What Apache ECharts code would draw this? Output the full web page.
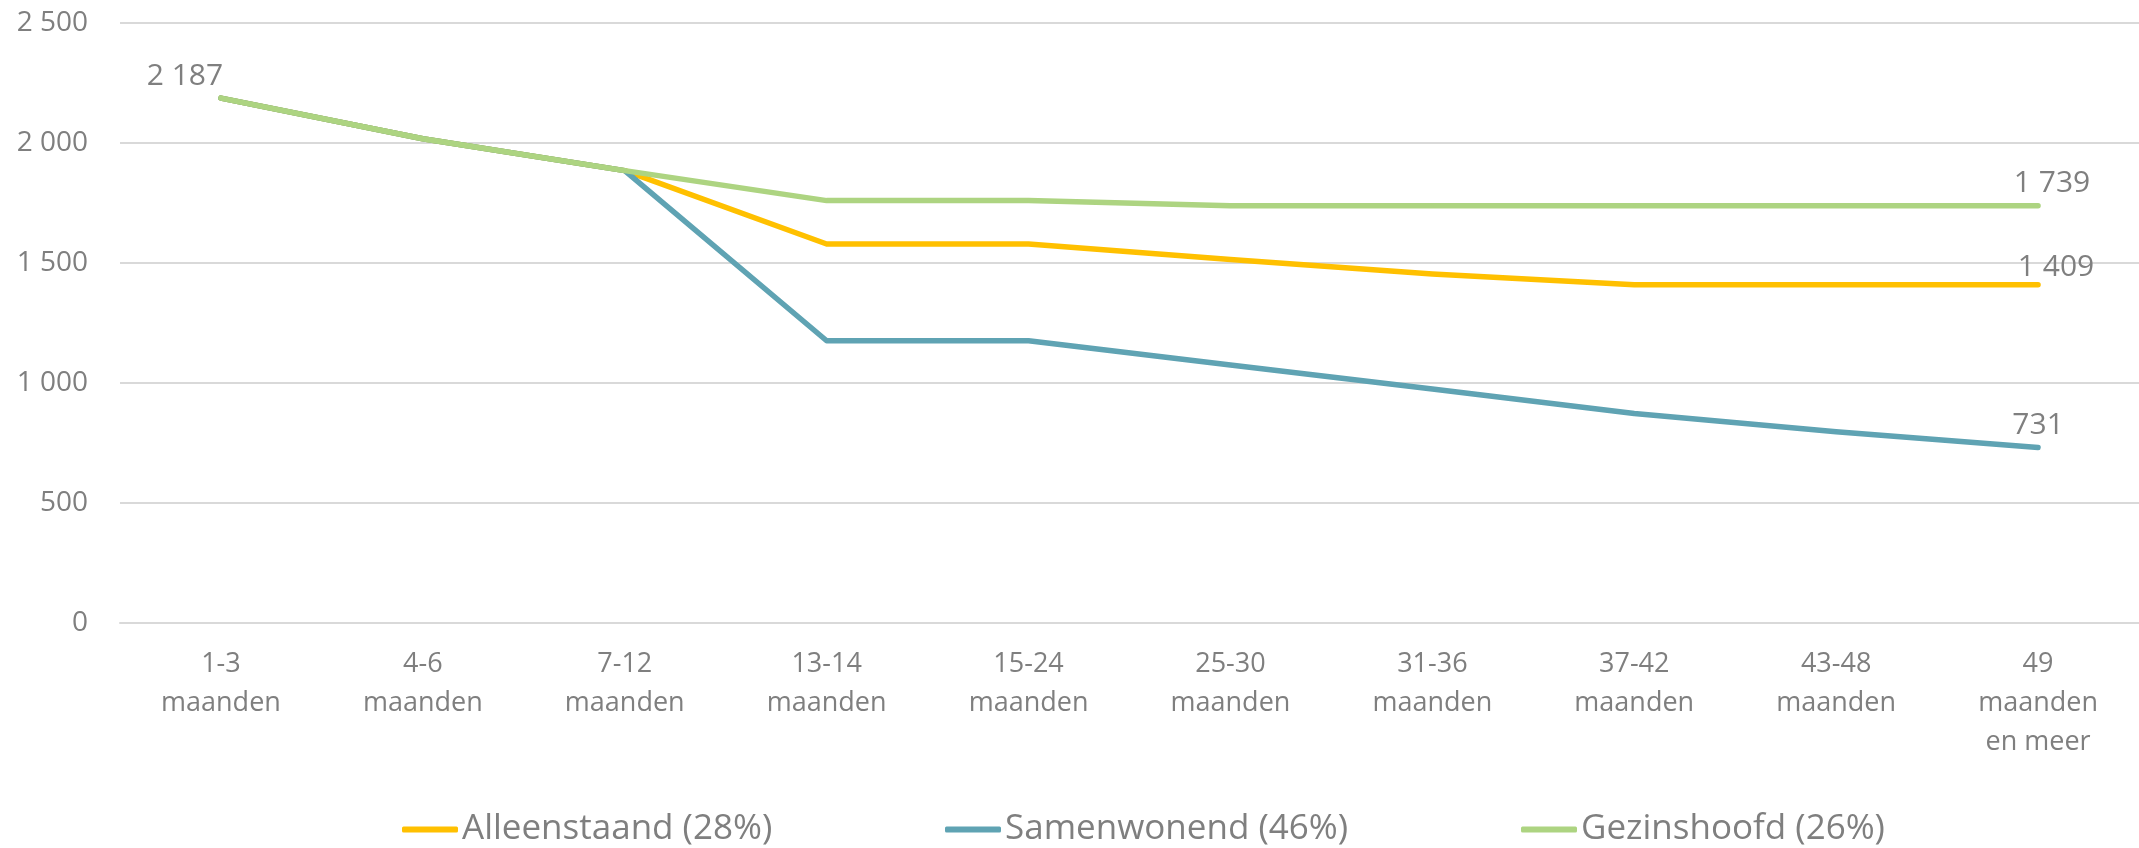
<!DOCTYPE html>
<html>
<head>
<meta charset="utf-8">
<script src="https://cdn.jsdelivr.net/npm/echarts@6/dist/echarts.min.js"></script>
<style>
html,body{margin:0;padding:0;background:#fff;}
#chart{width:2139px;height:848px;}
</style>
</head>
<body>
<div id="chart"></div>
<script>
const categories = ['1-3\nmaanden','4-6\nmaanden','7-12\nmaanden','13-14\nmaanden','15-24\nmaanden','25-30\nmaanden','31-36\nmaanden','37-42\nmaanden','43-48\nmaanden','49\nmaanden\nen meer'];
const seriesNames = ['Alleenstaand (28%)','Samenwonend (46%)','Gezinshoofd (26%)'];
const alleenstaand = [2187, 2018, 1885, 1579, 1579, 1515, 1454, 1409, 1409, 1409];
const samenwonend  = [2187, 2018, 1885, 1176, 1176, 1075, 975, 873, 797, 731];
const gezinshoofd  = [2187, 2018, 1885, 1760, 1760, 1739, 1739, 1739, 1739, 1739];
const yTicks = [0, 500, 1000, 1500, 2000, 2500];

const colors = ['#FFC000', '#5FA3B3', '#ADD481'];
const textColor = '#7f7f7f';
const fontFamily = '"Open Sans", sans-serif';

function fmt(v){ return String(v).replace(/\B(?=(\d{3})+(?!\d))/g, ' '); }

// which points get a data label, and label offsets
const labelSpec = [
  {9: [18, 3]},
  {9: [0, -2]},
  {0: [-36, -2], 9: [14, -2]}
];

function buildData(arr, spec){
  return arr.map((v, i) => {
    if (spec[i]) {
      return {value: v, label: {show: true, position: 'top', distance: 4, offset: spec[i],
        formatter: p => fmt(p.value), color: textColor, fontSize: 30, fontFamily: fontFamily}};
    }
    return v;
  });
}

const allData = [alleenstaand, samenwonend, gezinshoofd];
const legendLefts = [397, 940, 1516];

const chart = echarts.init(document.getElementById('chart'), null, {renderer: 'canvas'});
chart.setOption({
  animation: false,
  backgroundColor: '#fff',
  grid: {left: 120, right: 0, top: 23, bottom: 225, containLabel: false},
  legend: seriesNames.map((n, i) => ({
    data: [n], left: legendLefts[i], top: 807,
    icon: 'roundRect', itemWidth: 56, itemHeight: 6, itemGap: 0,
    textStyle: {color: textColor, fontSize: 35, fontFamily: fontFamily, padding: [0,0,0,-1]}
  })),
  xAxis: {
    type: 'category', data: categories, boundaryGap: true,
    axisLine: {lineStyle: {color: '#d9d9d9', width: 2}},
    axisTick: {show: false},
    axisLabel: {color: textColor, fontSize: 27, fontFamily: fontFamily, lineHeight: 39, margin: 22, interval: 0}
  },
  yAxis: {
    type: 'value', min: yTicks[0], max: yTicks[yTicks.length-1], interval: 500,
    axisLine: {show: false}, axisTick: {show: false},
    splitLine: {lineStyle: {color: '#d9d9d9', width: 2}},
    axisLabel: {color: textColor, fontSize: 28, fontFamily: fontFamily, margin: 32, formatter: v => fmt(v)}
  },
  series: seriesNames.map((n, i) => ({
    name: n, type: 'line', data: buildData(allData[i], labelSpec[i]),
    symbol: 'circle', symbolSize: 2, showSymbol: true, showAllSymbol: true,
    smooth: false,
    itemStyle: {color: colors[i]},
    lineStyle: {color: colors[i], width: 5.5, cap: 'round', join: 'round'},
    emphasis: {disabled: true},
    z: 2 + i
  }))
});
</script>
</body>
</html>
